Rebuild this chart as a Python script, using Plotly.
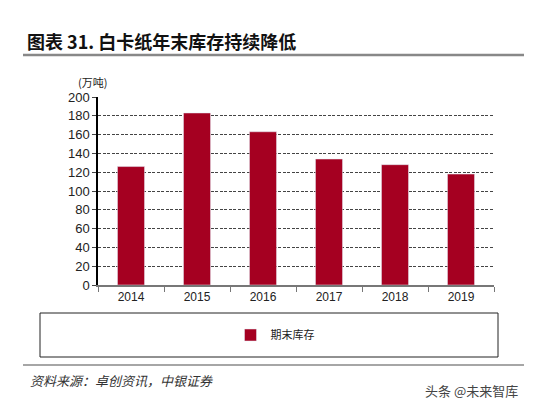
import plotly.graph_objects as go

years = ["2014", "2015", "2016", "2017", "2018", "2019"]
inventory = [126, 183, 163, 134, 128, 118]
series_name = "期末库存"
y_ticks = [0, 20, 40, 60, 80, 100, 120, 140, 160, 180, 200]

W, H = 555, 399
L, R, T, B = 90, 486, 89, 277
pw, ph = R - L, B - T

def px(x):
    return (x - L) / pw

def py(y):
    return (B - y) / ph

fig = go.Figure()
fig.add_trace(go.Bar(x=years, y=inventory, name=series_name, marker_color="#A50021",
                     width=0.41, showlegend=True))

cjk = "Noto Sans CJK SC"
fig.update_layout(
    width=W, height=H,
    margin=dict(l=L, r=W - R, t=T, b=H - B),
    paper_bgcolor="white", plot_bgcolor="white",
    showlegend=True,
    legend=dict(x=px(267), y=py(327), xanchor="center", yanchor="middle",
                orientation="h", font=dict(family=cjk, size=11, color="#222"),
                bgcolor="rgba(0,0,0,0)", itemwidth=30),
    xaxis=dict(type="category", range=[-0.5, 5.5], showline=True, linecolor="#777",
               linewidth=1.5, ticks="outside", tickson="boundaries", ticklen=5,
               tickcolor="#777", showgrid=False,
               tickfont=dict(family="Liberation Sans", size=12, color="#222")),
    yaxis=dict(range=[0, 200], tickvals=y_ticks, showline=True, linecolor="black",
               linewidth=1.5, ticks="outside", ticklen=4, tickcolor="#444",
               showgrid=True, gridcolor="#444", griddash="3px,1.5px", gridwidth=1,
               zeroline=False,
               tickfont=dict(family="Liberation Sans", size=13, color="#222")),
    bargap=0.59,
)

shapes = [
    dict(type="rect", xref="paper", yref="paper", x0=px(32), x1=px(490), y0=py(349), y1=py(305),
         line=dict(color="#222", width=1)),
    dict(type="line", xref="paper", yref="paper", x0=px(15), x1=px(516), y0=py(47), y1=py(47),
         line=dict(color="#888", width=2.5)),
    dict(type="line", xref="paper", yref="paper", x0=px(15), x1=px(516), y0=py(357), y1=py(357),
         line=dict(color="#888", width=1.5)),
]
fig.update_layout(shapes=shapes)

fig.add_annotation(xref="paper", yref="paper", x=px(17), y=py(33), xanchor="left", yanchor="middle",
                   text="<b>图表 31. 白卡纸年末库存持续降低</b>", showarrow=False,
                   font=dict(family=cjk, size=18, color="#111"))
fig.add_annotation(xref="paper", yref="paper", x=px(84), y=py(74), xanchor="center", yanchor="middle",
                   text="(万吨)", showarrow=False, font=dict(family=cjk, size=11, color="#222"))
fig.add_annotation(xref="paper", yref="paper", x=px(20), y=py(372), xanchor="left", yanchor="middle",
                   text="<i>资料来源：卓创资讯，中银证券</i>", showarrow=False,
                   font=dict(family=cjk, size=13, color="#333"))
fig.add_annotation(xref="paper", yref="paper", x=px(512), y=py(382), xanchor="right", yanchor="middle",
                   text="头条 @未来智库", showarrow=False,
                   font=dict(family=cjk, size=13, color="#444"))

fig.write_html("out.html")
